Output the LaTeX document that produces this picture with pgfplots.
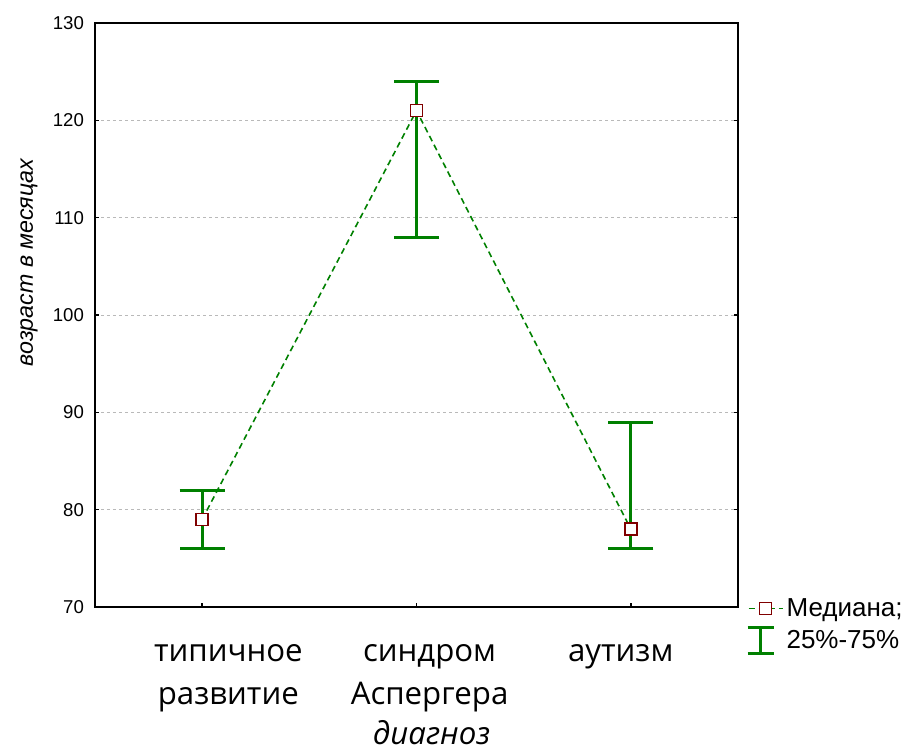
\documentclass[border=0pt]{standalone}
\usepackage{fontspec}
\setmainfont{Liberation Sans}
\newfontfamily\catfont{Open Sans}
\usepackage{pgfplots}
\pgfplotsset{compat=1.18}
\definecolor{sgreen}{RGB}{0,128,0}
\definecolor{sred}{RGB}{128,0,0}
\begin{document}
\begin{tikzpicture}[x=1pt,y=1pt]
\useasboundingbox (-47.5,-72) rectangle (407,303.5);
\begin{axis}[
  at={(0,0)}, anchor=south west,
  scale only axis, width=321.5pt, height=292pt,
  xmin=-0.5, xmax=2.5, ymin=70, ymax=130,
  xtick={0,1,2},
  xticklabels={},
  extra x ticks={0.122,1.061,1.953},
  extra x tick labels={{типичное\\развитие},{синдром\\Аспергера},{аутизм}},
  extra x tick style={major tick length=0pt, xticklabel style={align=center, font=\catfont\fontsize{15.6}{21.5}\selectfont, yshift=-15pt}},
  ytick={70,80,...,130},
  xtick pos=bottom, ytick pos=both,
  tick align=inside, major tick length=2pt,
  axis line style={line width=1pt},
  every tick/.style={black, line width=0.8pt},
  ymajorgrids,
  major grid style={gray!55, line width=0.4pt, dash pattern=on 1.5pt off 1.5pt},
  yticklabel style={font=\fontsize{9.3}{10}\selectfont, xshift=-2pt},
  /pgf/number format/assume math mode=true,
  xlabel={\catfont\itshape\fontsize{15.6}{19}\selectfont диагноз},
  xlabel style={at={(axis description cs:0.5,0)}, anchor=base, xshift=7.5pt, yshift=-68.5pt},
  ylabel={\itshape\fontsize{11.6}{12}\selectfont возраст в месяцах},
  ylabel style={at={(axis description cs:-0.1025,0.59)}, anchor=center},
  legend style={at={(rel axis cs:1.012,0.021)}, anchor=north west, draw=none, fill=none,
    font=\fontsize{13}{15}\selectfont, row sep=2pt, inner sep=0pt,
    nodes={inner sep=1.5pt}},
  legend cell align=left,
]
\addlegendimage{sgreen, line width=0.8pt, dash pattern=on 3pt off 2pt, mark=square*, mark size=3pt, mark options={draw=sred, fill=white, solid, line width=0.7pt}}
\addlegendentry{Медиана;}
\addlegendimage{legend image code/.code={\draw[sgreen,line width=1.5pt] (6pt,-6.5pt)--(6pt,6.5pt) (-0.5pt,-6.5pt)--(12.5pt,-6.5pt) (-0.5pt,6.5pt)--(12.5pt,6.5pt);}}
\addlegendentry{25\%-75\%}
% interquartile range (error bars)
\addplot[draw=none, mark=none, forget plot,
  error bars/.cd, y dir=both, y explicit,
  error bar style={sgreen, line width=1.5pt},
  error mark options={sgreen, rotate=90, mark size=11.25pt, line width=1.5pt}]
  coordinates {
    (0,79) += (0,3) -= (0,3)
    (1,121) += (0,3) -= (0,13)
    (2,78) += (0,11) -= (0,2)
  };
% medians
\addplot[sgreen, line width=0.8pt, dash pattern=on 3pt off 2pt, forget plot,
  mark=square*, mark size=3pt, mark options={draw=sred, fill=white, solid, line width=0.7pt}]
  coordinates {(0,79) (1,121) (2,78)};
\end{axis}
\end{tikzpicture}
\end{document}
